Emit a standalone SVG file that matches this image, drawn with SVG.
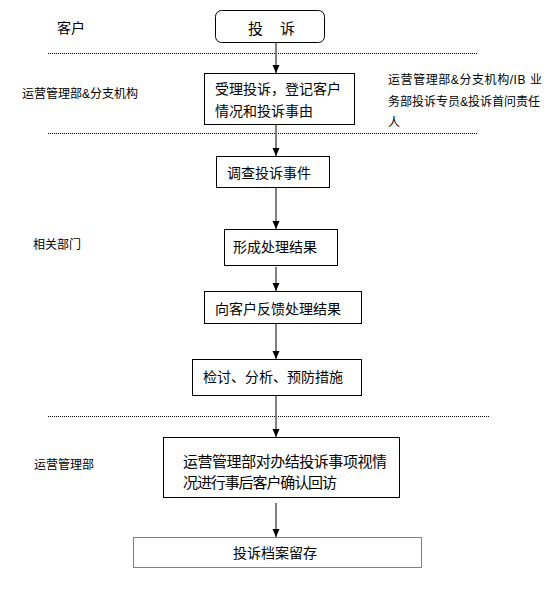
<svg xmlns="http://www.w3.org/2000/svg" width="552" height="612" viewBox="0 0 552 612">
<style>
text{font-family:"Liberation Sans","Noto Sans CJK SC",sans-serif;fill:#000}
.lbl{font-size:12px}
.t14{font-size:14px}
.t15{font-size:15px}
.box{fill:#fff;stroke:#000;stroke-width:1}
.sep{stroke:#000;stroke-width:1;stroke-dasharray:1 1;fill:none}
.conn{stroke:#808080;stroke-width:2;fill:none}
</style>
<defs>
<marker id="ah" markerWidth="8" markerHeight="8" refX="8" refY="4" orient="auto" markerUnits="userSpaceOnUse">
<path d="M0,0.5 L8,4 L0,7.5 Z" fill="#000"/>
</marker>
</defs>
<rect width="552" height="612" fill="#fff"/>
<g id="separators">
<line class="sep" x1="48" y1="53.5" x2="478" y2="53.5"/>
<line class="sep" x1="48" y1="133.5" x2="478" y2="133.5"/>
<line class="sep" x1="48" y1="416.5" x2="490" y2="416.5"/>
</g>
<g id="lanes">
<text class="t14" x="57" y="33">客户</text>
<text class="lbl" x="22" y="98">运营管理部&amp;分支机构</text>
<text class="lbl" x="388" y="84" textLength="154" lengthAdjust="spacing">运营管理部&amp;分支机构/IB 业</text>
<text class="lbl" x="388" y="106">务部投诉专员&amp;投诉首问责任</text>
<text class="lbl" x="388" y="127">人</text>
<text class="lbl" x="33" y="249">相关部门</text>
<text class="lbl" x="34" y="469">运营管理部</text>
</g>
<g id="connectors">
<line class="conn" x1="276" y1="42" x2="276" y2="73" marker-end="url(#ah)"/>
<line class="conn" x1="276" y1="125" x2="276" y2="156" marker-end="url(#ah)"/>
<line class="conn" x1="276" y1="187" x2="276" y2="229" marker-end="url(#ah)"/>
<line class="conn" x1="276" y1="267" x2="276" y2="291" marker-end="url(#ah)"/>
<line class="conn" x1="276" y1="323" x2="276" y2="359" marker-end="url(#ah)"/>
<line class="conn" x1="276" y1="395" x2="276" y2="437" marker-end="url(#ah)"/>
<line class="conn" x1="276" y1="503" x2="276" y2="537" marker-end="url(#ah)"/>
</g>
<g id="n1">
<rect class="box" x="215.5" y="10.5" width="109" height="32" rx="6"/>
<text class="t15" x="248" y="34">投<tspan x="280">诉</tspan></text>
</g>
<g id="n2">
<rect class="box" x="204.5" y="73.5" width="150" height="51"/>
<text class="t14" x="215" y="94">受理投诉，登记客户</text>
<text class="t14" x="215" y="116">情况和投诉事由</text>
</g>
<g id="n3">
<rect class="box" x="216.5" y="156.5" width="113" height="31"/>
<text class="t14" x="227" y="178">调查投诉事件</text>
</g>
<g id="n4">
<rect class="box" x="224.5" y="229.5" width="113" height="36"/>
<text class="t14" x="233" y="252">形成处理结果</text>
</g>
<g id="n5">
<rect class="box" x="204.5" y="291.5" width="157" height="32"/>
<text class="t14" x="215" y="314">向客户反馈处理结果</text>
</g>
<g id="n6">
<rect class="box" x="192.5" y="359.5" width="169" height="36"/>
<text class="t14" x="203" y="382">检讨、分析、预防措施</text>
</g>
<g id="n7">
<rect class="box" x="163.5" y="437.5" width="236" height="60"/>
<text class="t15" x="183" y="467" textLength="204" lengthAdjust="spacing">运营管理部对办结投诉事项视情</text>
<text class="t15" x="183" y="488" textLength="154" lengthAdjust="spacing">况进行事后客户确认回访</text>
</g>
<g id="n8">
<rect x="133.5" y="537.5" width="288" height="30" fill="#fff" stroke="#000" stroke-width="1" stroke-dasharray="1 1"/>
<text class="t14" x="233" y="558">投诉档案留存</text>
</g>
</svg>
